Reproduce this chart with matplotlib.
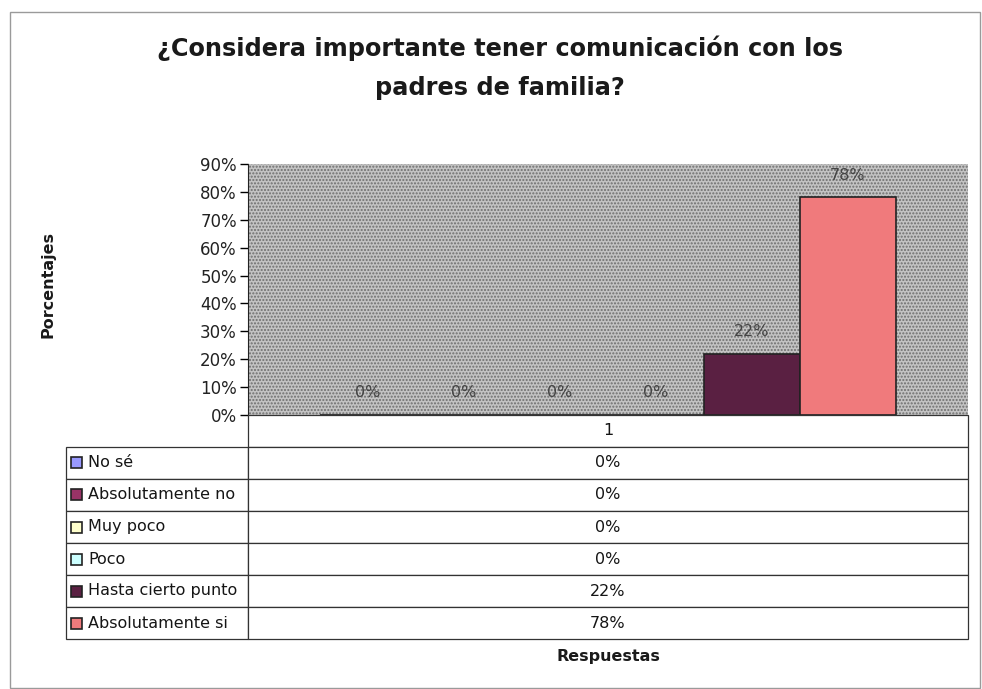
import numpy as np
import matplotlib.pyplot as plt
from matplotlib.table import Table
from matplotlib.patches import Rectangle

# data
categories = ['No sé', 'Absolutamente no', 'Muy poco', 'Poco',
              'Hasta cierto punto', 'Absolutamente si']
values = [0.0, 0.0, 0.0, 0.0, 0.22, 0.78]
colors = ['#9999ff', '#993366', '#ffffcc', '#ccffff', '#5a2042', '#f07a7c']
column_label = '1'
title = '¿Considera importante tener comunicación con los\npadres de familia?'

plt.rcParams['font.family'] = ['DejaVu Sans']

W, H = 982, 689
fig = plt.figure(figsize=(W / 100, H / 100), dpi=100)


def px_axes(x0, y0, x1, y1):
    """axes from pixel box (top-left origin)"""
    return fig.add_axes([x0 / W, 1 - y1 / H, (x1 - x0) / W, (y1 - y0) / H])


# outer frame
fig.patches.append(Rectangle((10 / W, 0.002), 970 / W, 1 - 12 / H - 0.002,
                             transform=fig.transFigure, fill=False,
                             edgecolor='#9a9a9a', lw=1))

# bar plot area with dotted grey background
ax = px_axes(248, 164, 968, 415)
ax.set_facecolor('none')
ax.add_patch(Rectangle((0, 0), 1, 1, transform=ax.transAxes, zorder=0,
                       facecolor='#c3c3c3', edgecolor='#6e6e6e', lw=0,
                       hatch='.....'))
n = len(values)
w = 0.8 / n
xs = -0.4 + w * (np.arange(n) + 0.5)
bars = ax.bar(xs, values, width=w, color=colors, edgecolor='#222222', lw=1.2,
              zorder=2)
for x, v in zip(xs, values):
    ax.annotate(f'{v:.0%}', (x, v), xytext=(0, 16), textcoords='offset points',
                ha='center', va='center', fontsize=11.5, color='#444444')
ax.set_xlim(-0.5, 0.5)
ax.set_ylim(0, 0.9)
ax.set_yticks(np.arange(0, 0.91, 0.1))
ax.set_yticklabels([f'{t:.0f}%' for t in np.arange(0, 91, 10)],
                   fontsize=12, color='#222222')
ax.tick_params(axis='y', length=6, width=1, pad=2)
ax.set_xticks([])
for side in ['top', 'right', 'bottom']:
    ax.spines[side].set_visible(False)
ax.spines['left'].set_color('#222222')

# data table under the plot
tab_ax = px_axes(66, 415, 968, 639)
tab_ax.axis('off')
tab_ax.set_xlim(0, 1)
tab_ax.set_ylim(0, 1)
lab_w = 182 / 902
val_w = 720 / 902
row_h = 1 / (n + 1)
tbl = Table(tab_ax, bbox=[0, 0, 1, 1])
tbl.auto_set_font_size(False)
hdr = tbl.add_cell(0, 0, width=lab_w, height=row_h, text='')
hdr.visible_edges = ''
tbl.add_cell(0, 1, width=val_w, height=row_h, text=column_label, loc='center')
for i, (cat, v) in enumerate(zip(categories, values)):
    lc = tbl.add_cell(i + 1, 0, width=lab_w, height=row_h, text=cat, loc='left')
    lc.PAD = 22 / 182
    tbl.add_cell(i + 1, 1, width=val_w, height=row_h, text=f'{v:.0%}', loc='center')
for cell in tbl.get_celld().values():
    cell.set_edgecolor('#333333')
    cell.set_linewidth(0.9)
    cell.get_text().set_fontsize(11.5)
    cell.get_text().set_color('#151515')
tab_ax.add_table(tbl)

# legend keys in the row labels
kw, kh = 11 / 902, 11 / 224
for i, c in enumerate(colors):
    yc = 1 - row_h * (i + 1.5)
    tab_ax.add_patch(Rectangle((5 / 902, yc - kh / 2), kw, kh, facecolor=c,
                               edgecolor='#222222', lw=1.2, zorder=5))

# title, one text per line
for k, line in enumerate(title.split('\n')):
    fig.text(500 / W, 1 - (48 + 40 * k) / H, line, ha='center', va='center',
             fontsize=17.3, fontweight='bold', color='#1a1a1a')
fig.text(48 / W, 1 - 284 / H, 'Porcentajes', rotation=90, ha='center',
         va='center', fontsize=11.5, fontweight='bold', color='#1a1a1a')
fig.text(608 / W, 1 - 656 / H, 'Respuestas', ha='center', va='center',
         fontsize=11.5, fontweight='bold', color='#1a1a1a')

fig.savefig('out.png', dpi=100)
